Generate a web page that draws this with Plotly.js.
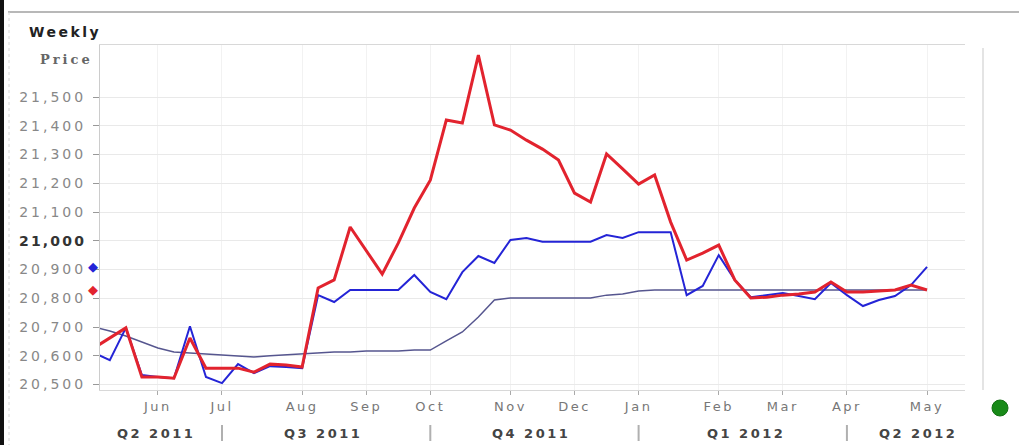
<!DOCTYPE html>
<html>
<head>
<meta charset="utf-8">
<script src="https://cdn.plot.ly/plotly-3.0.1.min.js"></script>
<style>
  html, body { margin: 0; padding: 0; background: #fff; }
  #wrap { position: relative; width: 1019px; height: 445px; }
  #chart { width: 1019px; height: 445px; }
  #edge { position: absolute; left: 0; top: 0; width: 4px; height: 445px; background: #111; z-index: 10; }
</style>
</head>
<body>
<div id="wrap"><div id="chart"></div><div id="edge"></div></div>
<script>
// Weekly observation dates (Sundays)
const weeks = [
  '2011-05-08','2011-05-15','2011-05-22','2011-05-29',
  '2011-06-05','2011-06-12','2011-06-19','2011-06-26',
  '2011-07-03','2011-07-10','2011-07-17','2011-07-24','2011-07-31',
  '2011-08-07','2011-08-14','2011-08-21','2011-08-28',
  '2011-09-04','2011-09-11','2011-09-18','2011-09-25',
  '2011-10-02','2011-10-09','2011-10-16','2011-10-23','2011-10-30',
  '2011-11-06','2011-11-13','2011-11-20','2011-11-27',
  '2011-12-04','2011-12-11','2011-12-18','2011-12-25',
  '2012-01-01','2012-01-08','2012-01-15','2012-01-22','2012-01-29',
  '2012-02-05','2012-02-12','2012-02-19','2012-02-26',
  '2012-03-04','2012-03-11','2012-03-18','2012-03-25',
  '2012-04-01','2012-04-08','2012-04-15','2012-04-22','2012-04-29',
  '2012-05-06'
];

// Blue weekly price
const priceBlue = [
  20610, 20585, 20697, 20533,
  20526, 20522, 20703, 20526,
  20505, 20571, 20540, 20564, 20561,
  20557, 20811, 20787, 20829,
  20829, 20829, 20829, 20881,
  20822, 20797, 20891, 20947, 20923,
  21003, 21010, 20997, 20997,
  20997, 20997, 21020, 21010,
  21030, 21030, 21030, 20811, 20843,
  20950, 20864, 20804, 20811,
  20818, 20808, 20797, 20853,
  20811, 20773, 20794, 20808, 20846,
  20909
];

// Red weekly price
const priceRed = [
  20627, 20662, 20697, 20526,
  20526, 20522, 20662, 20557,
  20557, 20557, 20543, 20571, 20568,
  20561, 20836, 20864, 21048,
  20968, 20884, 20992, 21114,
  21211, 21420, 21410, 21646, 21403,
  21385, 21350, 21319, 21281,
  21166, 21135, 21302, 21250,
  21197, 21229, 21065, 20933, 20957,
  20985, 20864, 20801, 20804,
  20811, 20815, 20822, 20857,
  20822, 20822, 20825, 20829, 20846,
  20829
];

// Thin average line
const priceAvg = [
  20700, 20686, 20669, 20648,
  20627, 20613, 20610, 20607,
  20603, 20600, 20596, 20600, 20603,
  20607, 20610, 20613, 20613,
  20617, 20617, 20617, 20620,
  20620, 20652, 20683, 20735, 20794,
  20801, 20801, 20801, 20801,
  20801, 20801, 20811, 20815,
  20825, 20829, 20829, 20829, 20829,
  20829, 20829, 20829, 20829,
  20829, 20829, 20829, 20829,
  20829, 20829, 20829, 20829, 20829,
  20829
];

// Month ticks sit on the first weekly date of each month
const monthTickDates = ['2011-06-05','2011-07-03','2011-08-07','2011-09-04','2011-10-02','2011-11-06',
                        '2011-12-04','2012-01-01','2012-02-05','2012-03-04','2012-04-01','2012-05-06'];
const monthTickLabels = ['Jun','Jul','Aug','Sep','Oct','Nov','Dec','Jan','Feb','Mar','Apr','May'];

const quarterLabels = ['Q2 2011','Q3 2011','Q4 2011','Q1 2012','Q2 2012'];
const quarterDates  = ['2011-06-04','2011-08-16','2011-11-15','2012-02-17','2012-05-02'];
const quarterBreaks = ['2011-07-03','2011-10-02','2012-01-01','2012-04-01'];

const priceTicks = [20500, 20600, 20700, 20800, 20900, 21000, 21100, 21200, 21300, 21400, 21500];

const wide = (s, sp) => '<span style="letter-spacing:' + sp + 'px">' + s + '</span>';
const fmt = v => v.toLocaleString('en-US');
const priceTickText = priceTicks.map(v =>
  v === 21000 ? '<b><span style="color:#333;letter-spacing:2.2px">' + fmt(v) + '</span></b>' : wide(fmt(v), 3));
const monthTickText = monthTickLabels.map(m => wide(m, 2.5));

const traces = [
  { x: weeks, y: priceAvg, type: 'scatter', mode: 'lines',
    line: { color: '#56568f', width: 1.5 }, hoverinfo: 'skip' },
  { x: weeks, y: priceBlue, type: 'scatter', mode: 'lines',
    line: { color: '#2424d6', width: 2 } },
  { x: weeks, y: priceRed, type: 'scatter', mode: 'lines',
    line: { color: '#e2232e', width: 3 } }
];

// pixel helpers for paper coordinates (plot area: x 100..965, y 45..390)
const px = v => (v - 100) / 865;
const py = v => (390 - v) / 345;

const annotations = [
  { xref: 'paper', yref: 'paper', x: px(27), y: py(32), xanchor: 'left', yanchor: 'middle',
    text: '<b>' + wide('Weekly', 2.5) + '</b>', showarrow: false,
    font: { family: 'DejaVu Sans', size: 14, color: '#222' } },
  { xref: 'paper', yref: 'paper', x: px(66), y: py(60), xanchor: 'center', yanchor: 'middle',
    text: '<b>' + wide('Price', 3) + '</b>', showarrow: false,
    font: { family: 'DejaVu Serif', size: 13, color: '#666' } },
  // last-value markers beside the price axis
  { xref: 'paper', yref: 'y', x: px(93), y: priceBlue[priceBlue.length - 1], xanchor: 'center', yanchor: 'middle',
    text: '◆', showarrow: false, font: { family: 'DejaVu Sans', size: 13, color: '#2424d6' } },
  { xref: 'paper', yref: 'y', x: px(93), y: priceRed[priceRed.length - 1], xanchor: 'center', yanchor: 'middle',
    text: '◆', showarrow: false, font: { family: 'DejaVu Sans', size: 13, color: '#e2232e' } }
];
quarterLabels.forEach((q, i) => annotations.push({
  xref: 'x', yref: 'paper', x: quarterDates[i], y: py(433), xanchor: 'center', yanchor: 'middle',
  text: '<b>' + wide(q, 2.5) + '</b>', showarrow: false,
  font: { family: 'DejaVu Sans', size: 13, color: '#444' }
}));

const shapes = [
  // frame lines
  { type: 'rect', xref: 'paper', yref: 'paper', x0: px(0), x1: px(4), y0: py(0), y1: py(445),
    fillcolor: '#111', line: { width: 0 }, layer: 'above' },
  { type: 'line', xref: 'paper', yref: 'paper', x0: px(8), x1: px(1019), y0: py(12), y1: py(12),
    line: { color: '#b8b8b8', width: 2 } },
  { type: 'line', xref: 'paper', yref: 'paper', x0: px(9), x1: px(9), y0: py(12), y1: py(445),
    line: { color: '#d8d8d8', width: 1, dash: 'dot' } },
  { type: 'line', xref: 'paper', yref: 'paper', x0: px(983), x1: px(983), y0: py(48), y1: py(390),
    line: { color: '#e4e4e4', width: 2 } },
  // status dot
  { type: 'circle', xref: 'paper', yref: 'paper', xsizemode: 'pixel', ysizemode: 'pixel',
    xanchor: px(1000), yanchor: py(408), x0: -8, x1: 8, y0: -8, y1: 8,
    fillcolor: '#188a18', line: { color: '#137013', width: 1 } }
];
// quarter separators
quarterBreaks.forEach(d => shapes.push({
  type: 'line', xref: 'x', yref: 'paper', x0: d, x1: d, y0: py(425), y1: py(441),
  line: { color: '#b0b0b0', width: 2 }
}));

const layout = {
  width: 1019, height: 445,
  margin: { l: 100, r: 54, t: 45, b: 55 },
  paper_bgcolor: '#ffffff', plot_bgcolor: '#ffffff',
  showlegend: false,
  font: { family: 'DejaVu Sans', size: 12, color: '#777' },
  xaxis: {
    type: 'date',
    range: ['2011-05-10 17:00', '2012-05-22 14:00'],
    tickmode: 'array', tickvals: monthTickDates, ticktext: monthTickText,
    ticks: 'outside', ticklen: 4, tickcolor: '#aaa',
    tickfont: { family: 'DejaVu Sans', size: 13, color: '#777' },
    showgrid: true, gridcolor: '#f2f2f2', gridwidth: 1,
    showline: true, linecolor: '#d8d8d8', linewidth: 1, mirror: true,
    zeroline: false, fixedrange: true
  },
  yaxis: {
    range: [20481, 21681],
    tickmode: 'array', tickvals: priceTicks, ticktext: priceTickText,
    ticks: 'outside', ticklen: 6, tickcolor: '#999', ticklabelstandoff: 4,
    tickfont: { family: 'DejaVu Sans', size: 14, color: '#888' },
    showgrid: true, gridcolor: '#e9e9e9', gridwidth: 1,
    showline: true, linecolor: '#cccccc', linewidth: 1,
    zeroline: false, fixedrange: true
  },
  annotations: annotations,
  shapes: shapes
};

Plotly.newPlot('chart', traces, layout, { displayModeBar: false, staticPlot: true });
</script>
</body>
</html>
